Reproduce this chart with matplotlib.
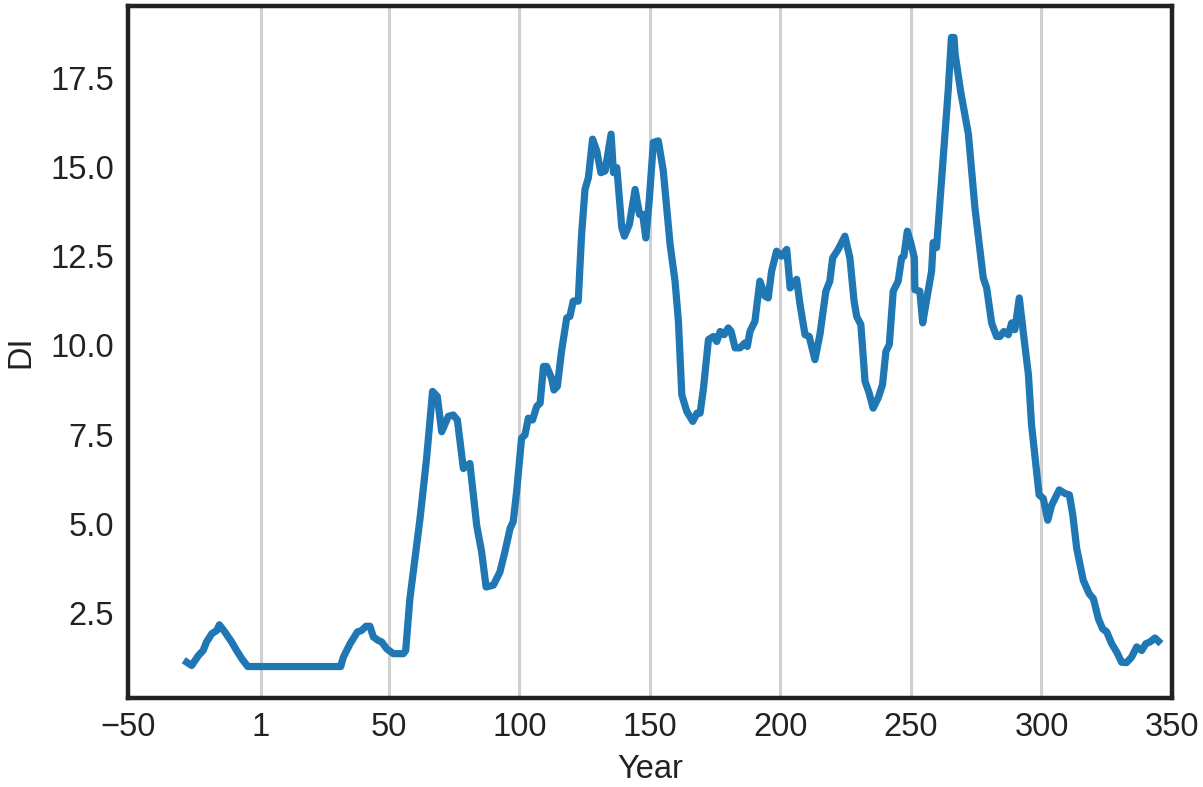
import numpy as np
import matplotlib
matplotlib.use('Agg')
import matplotlib.pyplot as plt

# values
year = [-27.5, -25.6, -23.0, -21.2, -19.9, -17.9, -16.0, -15.0, -12.9, -10.3, -8.4, -6.4, -4.1,
        31.5, 32.5, 35.1, 37.9, 39.5, 41.2, 42.7, 44.0, 45.9, 47.2, 49.1, 51.7, 55.5, 56.4,
        58.0, 61.9, 64.4, 66.7, 68.5, 70.2, 72.7, 74.6, 76.2, 78.5, 81.0, 83.6, 85.5, 87.2,
        90.0, 92.5, 94.4, 96.4, 97.6, 98.9, 100.8, 102.1, 103.4, 105.0, 106.6, 107.9, 109.2,
        110.4, 112.3, 113.2, 114.5, 116.1, 118.1, 119.3, 120.6, 122.5, 123.8, 125.1, 126.4,
        128.0, 129.6, 131.2, 132.8, 135.1, 136.0, 137.3, 139.2, 140.2, 142.1, 144.3, 146.0,
        147.2, 148.4, 149.7, 151.3, 153.2, 155.1, 157.7, 159.6, 160.9, 162.2, 164.1, 166.4,
        168.0, 169.2, 170.5, 172.4, 174.3, 175.6, 176.9, 178.4, 180.0, 181.1, 182.6, 184.5,
        186.4, 187.3, 188.3, 190.2, 192.1, 194.1, 195.3, 196.6, 198.5, 200.4, 202.4, 203.7,
        206.2, 207.5, 209.4, 211.0, 213.2, 215.1, 217.4, 218.9, 220.0, 222.1, 224.7, 226.6,
        228.2, 229.2, 230.8, 232.4, 234.0, 235.5, 237.4, 239.1, 240.4, 241.7, 243.2, 245.1,
        246.4, 247.3, 248.6, 249.9, 251.3, 251.5, 253.4, 254.5, 256.0, 257.9, 258.5, 259.8,
        261.7, 264.3, 265.5, 266.5, 266.9, 269.0, 272.0, 274.5, 277.7, 279.0, 280.9, 282.8,
        284.1, 285.6, 287.3, 288.6, 289.8, 291.5, 293.0, 295.0, 296.2, 299.1, 300.7, 302.4,
        303.9, 306.8, 309.0, 310.7, 312.0, 313.5, 316.0, 318.3, 319.9, 321.8, 323.4, 325.0,
        326.9, 328.8, 330.7, 332.6, 334.5, 336.5, 338.4, 340.0, 341.6, 343.5, 344.8]
di = [1.12, 1.03, 1.31, 1.45, 1.69, 1.92, 2.01, 2.17, 1.97, 1.69, 1.45, 1.22, 1.0,
      1.0, 1.26, 1.64, 1.97, 2.01, 2.13, 2.13, 1.83, 1.73, 1.69, 1.50, 1.36, 1.36, 1.45,
      2.9, 5.15, 6.83, 8.71, 8.57, 7.58, 8.01, 8.05, 7.91, 6.55, 6.69, 4.96, 4.21, 3.23,
      3.28, 3.65, 4.21, 4.87, 5.06, 5.9, 7.4, 7.49, 7.96, 7.91, 8.29, 8.38, 9.41,
      9.41, 9.08, 8.75, 8.85, 9.83, 10.77, 10.81, 11.24, 11.24, 13.11, 14.37, 14.70,
      15.78, 15.45, 14.84, 14.89, 15.92, 14.84, 14.98, 13.30, 13.06, 13.39, 14.37, 13.67,
      13.67, 13.01, 14.05, 15.69, 15.73, 14.89, 12.83, 11.80, 10.67, 8.61, 8.15, 7.87,
      8.10, 8.10, 8.80, 10.16, 10.25, 10.11, 10.39, 10.30, 10.49, 10.39, 9.93, 9.93,
      10.07, 9.97, 10.39, 10.67, 11.80, 11.38, 11.33, 12.08, 12.64, 12.50, 12.69, 11.61,
      11.85, 11.14, 10.30, 10.25, 9.60, 10.30, 11.52, 11.80, 12.45, 12.69, 13.06, 12.45,
      11.24, 10.81, 10.58, 8.99, 8.66, 8.24, 8.52, 8.90, 9.83, 10.02, 11.52, 11.80,
      12.45, 12.50, 13.20, 12.88, 12.45, 11.56, 11.52, 10.63, 11.28, 12.08, 12.88, 12.74,
      14.61, 17.18, 18.63, 18.63, 18.17, 17.13, 15.92, 13.86, 11.89, 11.61, 10.63, 10.25,
      10.25, 10.39, 10.30, 10.63, 10.44, 11.33, 10.39, 9.18, 7.77, 5.81, 5.71, 5.10,
      5.52, 5.95, 5.85, 5.81, 5.25, 4.31, 3.42, 3.04, 2.90, 2.34, 2.06, 1.97,
      1.64, 1.41, 1.12, 1.11, 1.26, 1.55, 1.45, 1.64, 1.69, 1.80, 1.71]
xticks = [-50, 1, 50, 100, 150, 200, 250, 300, 350]
yticks = [2.5, 5.0, 7.5, 10.0, 12.5, 15.0, 17.5]

plt.rcParams['font.family'] = ['Liberation Sans', 'DejaVu Sans']
plt.rcParams['text.color'] = '#222222'
plt.rcParams['axes.labelcolor'] = '#222222'

fig = plt.figure(figsize=(12.03, 7.87), dpi=100)
ax = fig.add_axes([0.1064, 0.1131, 0.8678, 0.8793])

ax.plot(year, di, color='#1f77b4', lw=5.2, solid_joinstyle='round', zorder=3)

ax.set_xlim(-50, 350)
ax.margins(y=0.05)
ax.set_xticks(xticks)
ax.set_yticks(yticks)
ax.set_yticklabels(['%.1f' % v for v in yticks])
ax.grid(axis='x', color='#d0d0d0', lw=2.2)
ax.tick_params(length=0, labelsize=23.5, pad=10, labelcolor='#222222')
for s in ax.spines.values():
    s.set_linewidth(3.2)
    s.set_color('#222222')
ax.set_xlabel('Year', fontsize=23.5, labelpad=8)
ax.set_ylabel('DI', fontsize=23.5, labelpad=10)

fig.savefig('out.png', dpi=100)
